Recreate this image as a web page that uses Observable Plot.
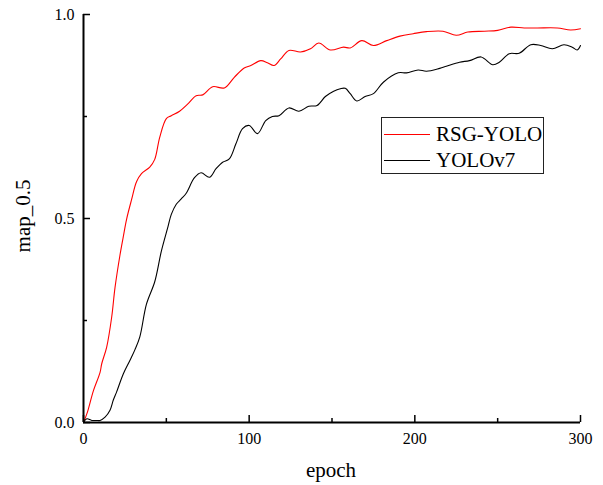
<!DOCTYPE html>
<html>
<head>
<meta charset="utf-8">
<script src="https://cdn.jsdelivr.net/npm/d3@7"></script>
<script src="https://cdn.jsdelivr.net/npm/@observablehq/plot@0.6"></script>
<style>
  html, body { margin: 0; padding: 0; background: #fff; }
  #wrap { position: relative; width: 603px; height: 485px; font-family: "Liberation Serif", "Times New Roman", serif; color: #000; }
  #wrap svg { position: absolute; left: 0; top: 0; }
  .lbl { position: absolute; font-size: 21px; white-space: nowrap; }
  #legend { position: absolute; left: 381px; top: 117px; width: 161px; height: 55px; border: 1px solid #222; background: #fff; }
  .lg-row { position: absolute; left: 2px; height: 24px; display: flex; align-items: center; font-size: 21px; }
  .lg-line { width: 46px; height: 0; border-top: 1.2px solid; margin-right: 6px; }
</style>
</head>
<body>
<div id="wrap"></div>
<script>
const seriesNames = ["RSG-YOLO", "YOLOv7"];
const seriesColors = ["#ff0000", "#000000"];

const rsgEpoch = [0, 2, 3, 6, 10, 11, 14, 17, 19, 22, 24, 26, 29, 32, 35, 40, 43, 46, 50, 53, 58, 63, 68, 72, 78, 85, 91, 97, 101, 107, 111, 115, 119, 124, 131, 137, 142, 149, 157, 161, 168, 175, 183, 191, 199, 207, 217, 225, 232, 242, 250, 258, 266, 274, 286, 294, 300];
const rsgMap = [0, 0.021, 0.034, 0.078, 0.123, 0.144, 0.185, 0.258, 0.33, 0.41, 0.455, 0.498, 0.546, 0.59, 0.61, 0.626, 0.645, 0.699, 0.745, 0.752, 0.763, 0.781, 0.801, 0.803, 0.823, 0.82, 0.846, 0.869, 0.875, 0.887, 0.882, 0.875, 0.891, 0.912, 0.908, 0.916, 0.93, 0.913, 0.92, 0.918, 0.936, 0.924, 0.936, 0.947, 0.953, 0.958, 0.959, 0.949, 0.957, 0.959, 0.961, 0.969, 0.967, 0.967, 0.967, 0.962, 0.965];

const v7Epoch = [0, 2, 5, 8, 10, 13, 16, 18, 20, 24, 28, 31, 34, 38, 43, 47, 51, 53, 56, 59, 62, 67, 71, 76, 80, 84, 88, 92, 96, 100, 105, 110, 114, 118, 124, 130, 136, 141, 146, 151, 155, 158, 161, 165, 170, 175, 181, 190, 195, 202, 207, 215, 219, 227, 233, 240, 247, 251, 257, 263, 270, 276, 283, 290, 295, 298, 300];
const v7Map = [0, 0.009, 0.005, 0.005, 0.005, 0.013, 0.03, 0.055, 0.075, 0.119, 0.152, 0.178, 0.21, 0.29, 0.345, 0.42, 0.48, 0.51, 0.535, 0.548, 0.562, 0.6, 0.612, 0.601, 0.622, 0.638, 0.646, 0.683, 0.72, 0.728, 0.708, 0.74, 0.75, 0.752, 0.771, 0.763, 0.775, 0.777, 0.799, 0.812, 0.818, 0.819, 0.806, 0.788, 0.799, 0.806, 0.834, 0.857, 0.857, 0.864, 0.861, 0.868, 0.873, 0.883, 0.887, 0.896, 0.877, 0.883, 0.904, 0.905, 0.926, 0.924, 0.916, 0.926, 0.92, 0.913, 0.924];

const xMajorTicks = [0, 100, 200, 300];
const xMinorTicks = [50, 150, 250];
const yMajorTicks = [0, 0.5, 1.0];
const yMinorTicks = [0.25, 0.75];
const xTitle = "epoch";
const yTitle = "map_0.5";

const rows = [
  ...rsgEpoch.map((e, i) => ({epoch: e, map: rsgMap[i], series: seriesNames[0]})),
  ...v7Epoch.map((e, i) => ({epoch: e, map: v7Map[i], series: seriesNames[1]}))
];

const chart = Plot.plot({
  width: 603,
  height: 485,
  marginLeft: 83,
  marginRight: 23,
  marginTop: 14,
  marginBottom: 63,
  style: {background: "transparent", overflow: "visible"},
  x: {domain: [0, 300]},
  y: {domain: [0, 1]},
  color: {domain: seriesNames, range: seriesColors},
  marks: [
    Plot.line(rows, {x: "epoch", y: "map", z: "series", stroke: "series", strokeWidth: 1.1, curve: "catmull-rom"}),
    Plot.axisX(xMajorTicks, {tickSize: -7, tickPadding: 17, tickFormat: d => String(d), label: null, strokeWidth: 1.5}),
    Plot.axisX(xMinorTicks, {tickSize: -4, text: null, label: null, strokeWidth: 1.5}),
    Plot.axisY(yMajorTicks, {tickSize: -7, tickPadding: 16, tickFormat: d => d.toFixed(1), label: null, strokeWidth: 1.5}),
    Plot.axisY(yMinorTicks, {tickSize: -4, text: null, label: null, strokeWidth: 1.5}),
    Plot.ruleX([0], {strokeWidth: 2}),
    Plot.ruleY([0], {strokeWidth: 2})
  ]
});

// force serif tick labels at 16px
d3.select(chart)
  .attr("font-family", "Liberation Serif")
  .attr("font-size", 16)
  .style("font-family", "'Liberation Serif', serif")
  .style("font-size", "16px");
d3.select(chart).selectAll("g, text")
  .attr("font-family", "Liberation Serif")
  .attr("font-size", 16)
  .style("font-family", "'Liberation Serif', serif")
  .style("font-size", "16px")
  .attr("fill", function() { return this.tagName === "text" || this.getAttribute("aria-label")?.includes("tick label") ? "#000" : this.getAttribute("fill"); });

const wrap = document.getElementById("wrap");
wrap.appendChild(chart);

const xl = document.createElement("div");
xl.className = "lbl";
xl.textContent = xTitle;
xl.style.left = "331px";
xl.style.top = "470px";
xl.style.transform = "translate(-50%, -50%)";
wrap.appendChild(xl);

const yl = document.createElement("div");
yl.className = "lbl";
yl.textContent = yTitle;
yl.style.left = "23px";
yl.style.top = "216px";
yl.style.transform = "translate(-50%, -50%) rotate(-90deg)";
wrap.appendChild(yl);

const lg = document.createElement("div");
lg.id = "legend";
seriesNames.forEach((name, i) => {
  const row = document.createElement("div");
  row.className = "lg-row";
  row.style.top = (4 + i * 26) + "px";
  const ln = document.createElement("span");
  ln.className = "lg-line";
  ln.style.borderTopColor = seriesColors[i];
  const tx = document.createElement("span");
  tx.textContent = name;
  row.appendChild(ln);
  row.appendChild(tx);
  lg.appendChild(row);
});
wrap.appendChild(lg);
</script>
</body>
</html>
